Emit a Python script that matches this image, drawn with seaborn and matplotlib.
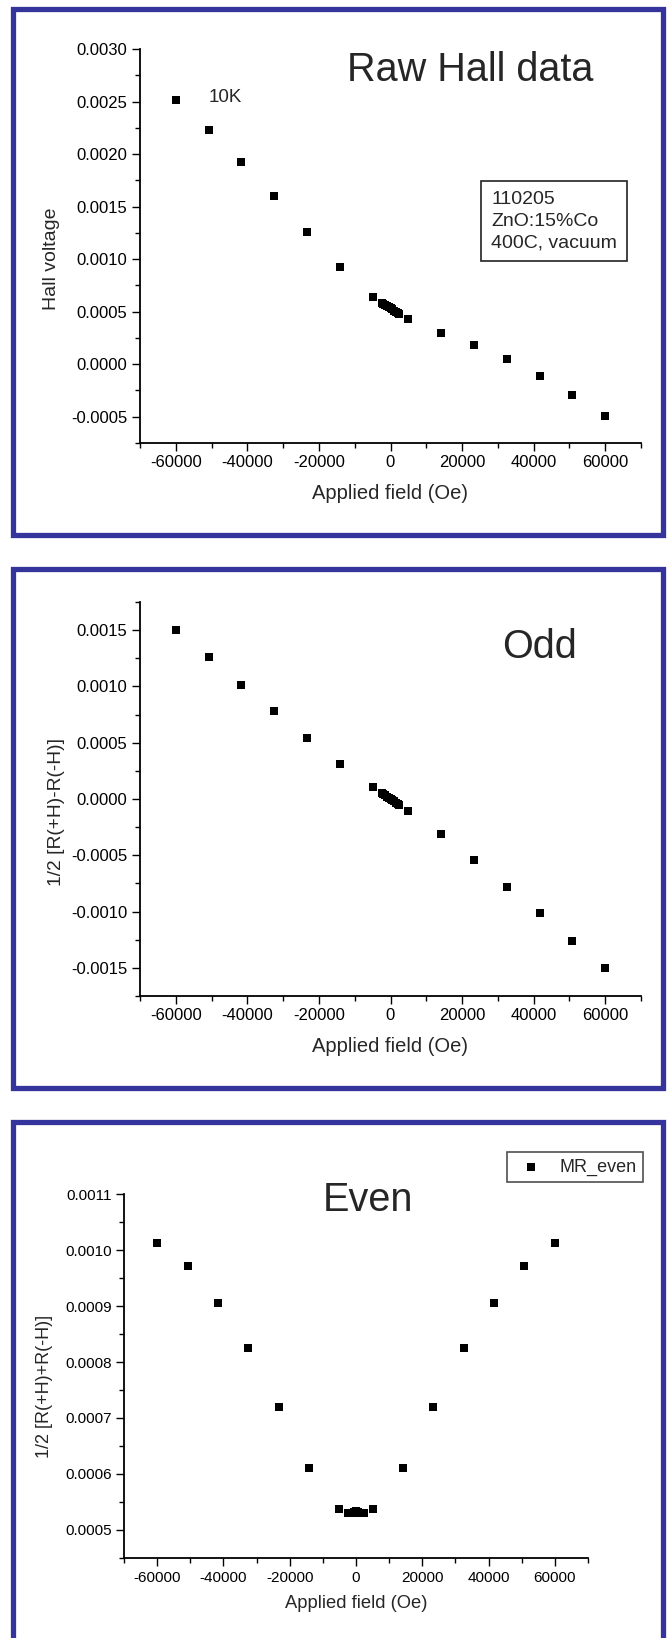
#!/usr/bin/env python3
"""
Hall data for ZnO:15%Co at 10K: raw signal, odd part and even part.
"""

import matplotlib
matplotlib.use('Agg')
import matplotlib.pyplot as plt
from matplotlib.patches import Rectangle
from matplotlib.ticker import MultipleLocator, FormatStrFormatter
import pandas as pd
import seaborn as sns

# Applied field (Oe)
campo = [-60000, -50833, -41667, -32500, -23333, -14167, -5000,
         -2500, -2000, -1500, -1000, -500, 0, 500, 1000, 1500, 2000, 2500,
         5000, 14167, 23333, 32500, 41667, 50833, 60000]

# Raw Hall voltage
hall_raw = [0.002518, 0.002232, 0.001921, 0.001602, 0.001257, 0.000922, 0.000643,
            0.000584, 0.000573, 0.000562, 0.000552, 0.000542, 0.000532, 0.000521,
            0.000510, 0.000499, 0.000488, 0.000477,
            0.000430, 0.000296, 0.000181, 0.000046, -0.000112, -0.000289, -0.000492]

# 1/2 [R(+H)-R(-H)]
hall_odd = [0.001505, 0.001260, 0.001014, 0.000778, 0.000538, 0.000313, 0.000107,
            0.000053, 0.000043, 0.000032, 0.000021, 0.000011, 0.0, -0.000011,
            -0.000021, -0.000032, -0.000043, -0.000053,
            -0.000107, -0.000313, -0.000538, -0.000778, -0.001014, -0.001260, -0.001505]

# 1/2 [R(+H)+R(-H)]
hall_even = [0.001012, 0.000971, 0.000905, 0.000825, 0.000719, 0.000610, 0.000537,
             0.000531, 0.000530, 0.000530, 0.000531, 0.000532, 0.000534, 0.000532,
             0.000531, 0.000530, 0.000530, 0.000531,
             0.000537, 0.000610, 0.000719, 0.000825, 0.000905, 0.000971, 0.001012]

ANCHO, ALTO = 668, 1638
AZUL = '#34349c'

sns.set_style('ticks')
plt.rcParams['font.family'] = ['Liberation Sans', 'DejaVu Sans']
plt.rcParams['axes.unicode_minus'] = False

fig = plt.figure(figsize=(ANCHO / 100, ALTO / 100), dpi=100)
fig.patch.set_facecolor('white')


def caja(izq, arriba, der, abajo):
    """Pixel box -> figure fraction rect."""
    return [izq / ANCHO, 1 - abajo / ALTO, (der - izq) / ANCHO, (abajo - arriba) / ALTO]


def pt(x, y):
    return x / ANCHO, 1 - y / ALTO


def marco(izq, arriba, der, abajo):
    r = Rectangle(pt(izq, abajo), (der - izq) / ANCHO, (abajo - arriba) / ALTO,
                  transform=fig.transFigure, fill=False, edgecolor=AZUL,
                  linewidth=3.8, zorder=0)
    fig.patches.append(r)


def estilo_ejes(ax, y_major, y_minor, tick_fs):
    sns.despine(ax=ax)
    for lado in ('left', 'bottom'):
        ax.spines[lado].set_linewidth(1.3)
        ax.spines[lado].set_color('black')
    ax.set_xlim(-70000, 70000)
    ax.set_xticks(range(-60000, 60001, 20000))
    ax.xaxis.set_minor_locator(MultipleLocator(10000))
    ax.yaxis.set_major_locator(MultipleLocator(y_major))
    ax.yaxis.set_minor_locator(MultipleLocator(y_minor))
    ax.yaxis.set_major_formatter(FormatStrFormatter('%.4f'))
    ax.tick_params(which='major', direction='out', length=5.5, width=1.0,
                   labelsize=tick_fs, colors='black', pad=3.5)
    ax.tick_params(which='minor', direction='out', length=3.5, width=1.0, colors='black')
    ax.set_facecolor('white')
    ax.grid(False)


df = pd.DataFrame({'campo': campo, 'raw': hall_raw, 'odd': hall_odd, 'even': hall_even})

# 1. Raw Hall data
marco(13, 9, 663, 535)
ax1 = fig.add_axes(caja(140, 49, 641, 443))
sns.scatterplot(data=df, x='campo', y='raw', marker='s', s=38, color='black',
                linewidth=0, legend=False, ax=ax1)
estilo_ejes(ax1, 0.0005, 0.00025, 12)
ax1.set_ylim(-0.00075, 0.0030)
ax1.set_xlabel('Applied field (Oe)', fontsize=14.5, va='center')
ax1.set_ylabel('Hall voltage', fontsize=14, va='center')
ax1.xaxis.set_label_coords(0.5, -0.129)
ax1.yaxis.set_label_coords(-0.176, 0.467)
ax1.text(-50800, 0.00254, '10K', fontsize=13.5, ha='left', va='center')
fig.text(*pt(470, 70), 'Raw Hall data', fontsize=28.5, ha='center', va='center')
fig.text(*pt(554, 221), '110205\nZnO:15%Co\n400C, vacuum', fontsize=14,
         ha='center', va='center', multialignment='left', linespacing=1.38,
         bbox=dict(boxstyle='square,pad=0.5', facecolor='white',
                   edgecolor='#222222', linewidth=1.2))

# 2. Odd part
marco(13, 569, 663, 1088)
ax2 = fig.add_axes(caja(140, 602, 641, 996))
sns.scatterplot(data=df, x='campo', y='odd', marker='s', s=38, color='black',
                linewidth=0, legend=False, ax=ax2)
estilo_ejes(ax2, 0.0005, 0.00025, 12)
ax2.set_ylim(-0.00175, 0.00175)
ax2.set_xlabel('Applied field (Oe)', fontsize=14.5, va='center')
ax2.set_ylabel('1/2 [R(+H)-R(-H)]', fontsize=13.8, va='center')
ax2.xaxis.set_label_coords(0.5, -0.129)
ax2.yaxis.set_label_coords(-0.167, 0.467)
fig.text(*pt(540, 647), 'Odd', fontsize=28.5, ha='center', va='center')

# 3. Even part
marco(13, 1122, 663, 1670)
ax3 = fig.add_axes(caja(124, 1194, 588, 1558))
sns.scatterplot(data=df, x='campo', y='even', marker='s', s=30, color='black',
                linewidth=0, label='MR_even', ax=ax3)
estilo_ejes(ax3, 0.0001, 0.00005, 11)
ax3.set_ylim(0.00045, 0.0011)
ax3.set_xlabel('Applied field (Oe)', fontsize=13.2, va='center')
ax3.set_ylabel('1/2 [R(+H)+R(-H)]', fontsize=13, va='center')
ax3.xaxis.set_label_coords(0.5, -0.126)
ax3.yaxis.set_label_coords(-0.171, 0.4725)
fig.text(*pt(368, 1200), 'Even', fontsize=28.5, ha='center', va='center')
leg = ax3.legend(loc='upper right', bbox_to_anchor=pt(643, 1152),
                 bbox_transform=fig.transFigure, borderaxespad=0, fontsize=13,
                 frameon=True, fancybox=False, edgecolor='#222222',
                 handlelength=1.95, handletextpad=0.6, borderpad=0.35, markerscale=1.0)
leg.get_frame().set_linewidth(1.2)

plt.savefig('out.png', dpi=100, facecolor='white')
plt.close()
